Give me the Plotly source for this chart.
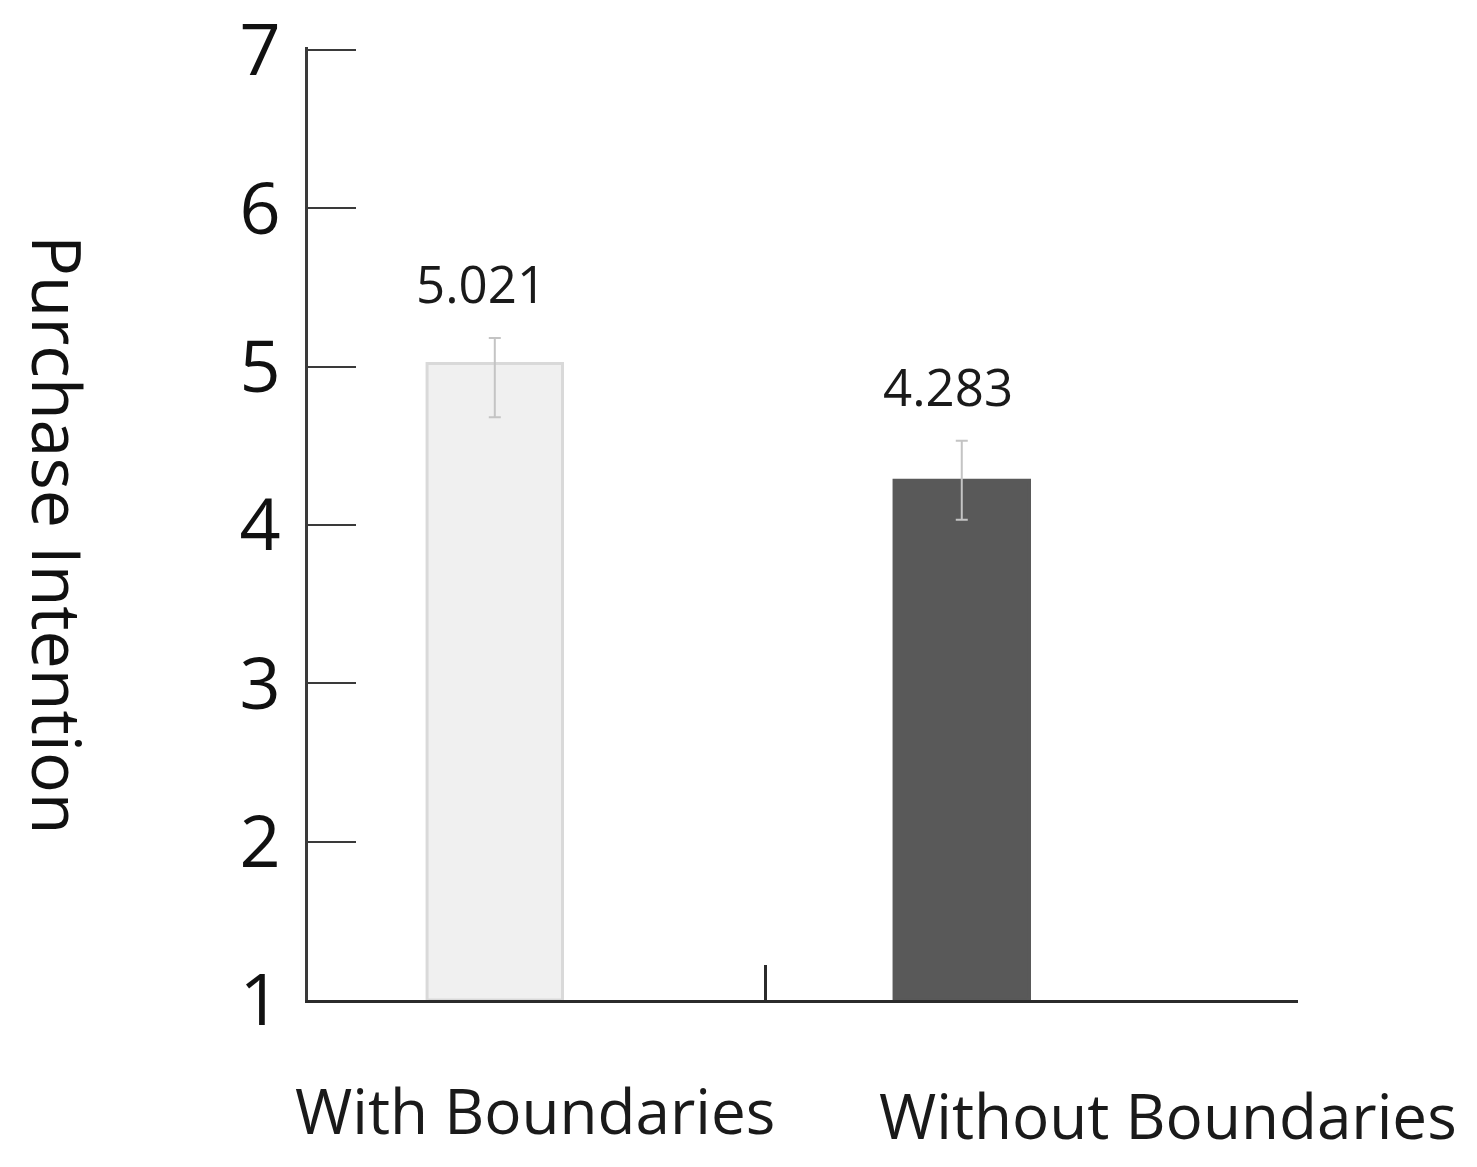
import plotly.graph_objects as go

# ---- data ----
categories = ["With Boundaries", "Without Boundaries"]
means = [5.021, 4.283]
err_plus = [0.16, 0.25]
err_minus = [0.34, 0.25]
value_labels = ["5.021", "4.283"]
y_ticks = [1, 2, 3, 4, 5, 6, 7]

x_pos = list(range(len(categories)))
FONT = "Open Sans"

fig = go.Figure()
fig.add_trace(go.Bar(
    x=x_pos,
    y=[m - 1 for m in means],
    base=1,
    width=0.29,
    marker=dict(color=["#f0f0f0", "#595959"],
                line=dict(color=["#d9d9d9", "#595959"], width=3)),
    error_y=dict(type="data", symmetric=False, array=err_plus, arrayminus=err_minus,
                 color="#c4c4c4", thickness=2, width=6),
    hoverinfo="skip",
))

annotations = []
# value labels above error bars
for i, (m, ep, lab) in enumerate(zip(means, err_plus, value_labels)):
    annotations.append(dict(x=x_pos[i] - 0.03, y=m + ep, xref="x", yref="y", text=lab,
                            showarrow=False, yanchor="bottom", yshift=18,
                            font=dict(family=FONT, size=51, color="#1a1a1a")))
# category labels
cat_offsets = [(0.086, -110), (0.442, -115)]
for i, cat in enumerate(categories):
    dx, dy = cat_offsets[i]
    annotations.append(dict(x=x_pos[i] + dx, y=0, xref="x", yref="paper", text=cat,
                            showarrow=False, yanchor="middle", yshift=dy,
                            font=dict(family=FONT, size=62, color="#1a1a1a")))
# y-axis title
annotations.append(dict(x=0, y=0.488, xref="paper", yref="paper", xshift=-250,
                        text="Purchase Intention", textangle=90, showarrow=False,
                        xanchor="center", yanchor="middle",
                        font=dict(family=FONT, size=68, color="#111111")))

fig.update_layout(
    width=1477, height=1167,
    margin=dict(l=300, r=187, t=39, b=175),
    paper_bgcolor="white", plot_bgcolor="white",
    showlegend=False,
    annotations=annotations,
    xaxis=dict(range=[-0.40, 1.72], showgrid=False, zeroline=False, automargin=False,
               showline=True, linecolor="#2b2b2b", linewidth=3,
               tickmode="array", tickvals=[0.58], ticks="inside", ticklen=35,
               tickwidth=3, tickcolor="#2b2b2b", showticklabels=False),
    yaxis=dict(range=[1, 7.02], showgrid=False, zeroline=False, automargin=False,
               showline=True, linecolor="#3a3a3a", linewidth=3,
               tickmode="array", tickvals=y_ticks, ticktext=[str(t) for t in y_ticks],
               ticks="inside", ticklen=48, tickwidth=2, tickcolor="#3a3a3a",
               ticklabelstandoff=10, ticklabeloverflow="allow",
               tickfont=dict(family=FONT, size=72, color="#111111")),
)

fig.write_html("out.html")
